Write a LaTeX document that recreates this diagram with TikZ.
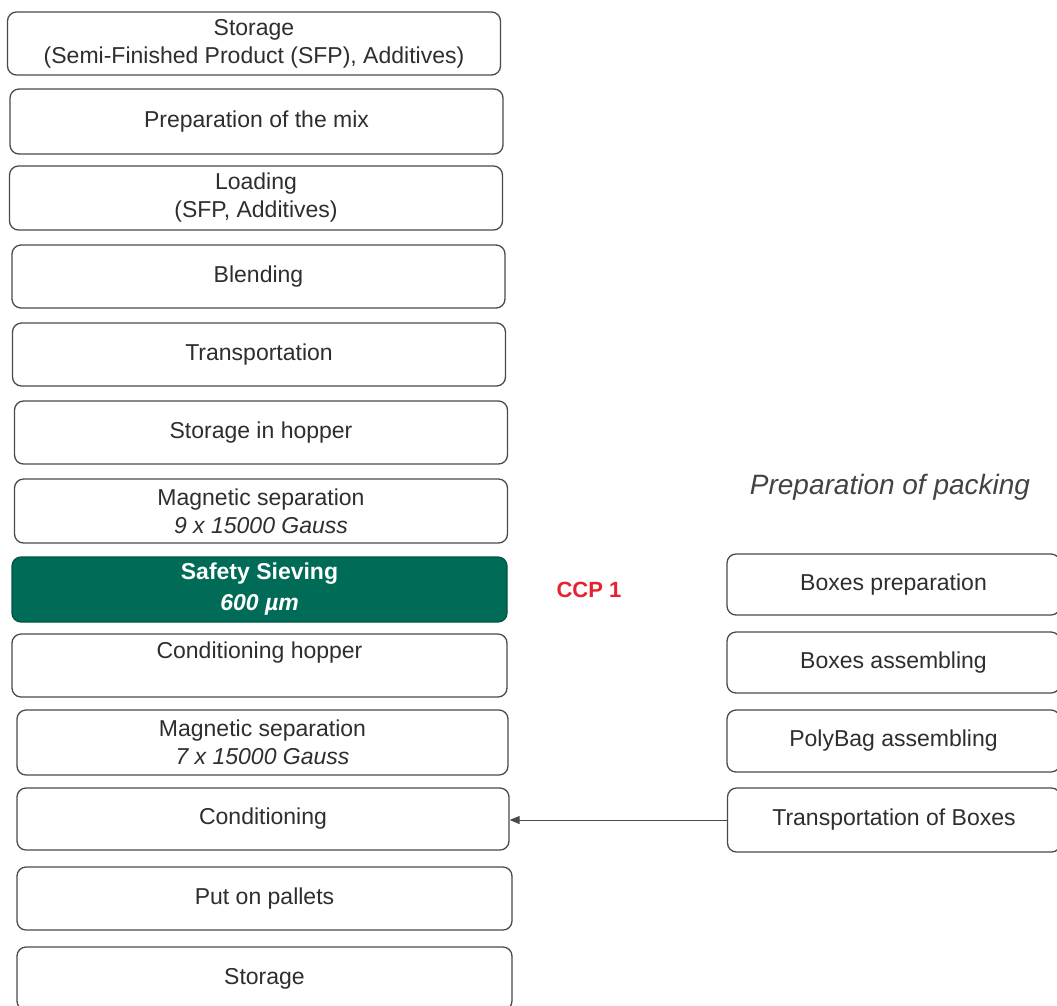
\documentclass[tikz,border=0pt]{standalone}
\usepackage{fontspec}
\setmainfont{Liberation Sans}
\usetikzlibrary{arrows.meta}
\definecolor{txtgray}{HTML}{2E2E2E}
\definecolor{linegray}{HTML}{4A4A4A}
\definecolor{ccpgreen}{HTML}{006B56}
\definecolor{ccpred}{HTML}{E8212E}
\tikzset{
  stepbox/.style={draw=linegray, line width=1.3pt, rounded corners=9pt, fill=white,
    inner sep=0pt, align=center, text=txtgray, font=\fontsize{23}{28}\selectfont},
  leftbox/.style={stepbox, minimum width=493pt, minimum height=63pt},
  rightbox/.style={stepbox, minimum width=333pt, minimum height=62pt},
  ccpbox/.style={leftbox, fill=ccpgreen, draw=ccpgreen!80!black, text=white,
    font=\bfseries\fontsize{23}{31}\selectfont},
  flowarrow/.style={draw=linegray, line width=1pt, -{Triangle[length=10pt,width=8pt]}}
}
\begin{document}
\begin{tikzpicture}[x=1pt,y=-1pt]
\clip (0,0) rectangle (1057,1005);
\fill[white] (0,0) rectangle (1057,1005);
% left column
\node[leftbox] (sto1) at (254,43.5) {Storage\\(Semi-Finished Product (SFP), Additives)};
\node[leftbox, minimum height=65pt] (mix) at (256.5,121.5) {Preparation of the mix};
\node[leftbox, minimum height=64pt] (load) at (256,198) {Loading\\(SFP, Additives)};
\node[leftbox] (blend) at (258.5,276.5) {Blending};
\node[leftbox] (trans) at (259,354.5) {Transportation};
\node[leftbox] (hop) at (261,432.5) {Storage in hopper};
\node[leftbox, minimum height=64pt] (mag1) at (261,511) {Magnetic separation\\\textit{9 x 15000 Gauss}};
\node[ccpbox, minimum width=495pt, minimum height=65pt] (sieve) at (259.5,589.5) {Safety Sieving\\\textit{600 µm}};
\node[leftbox, minimum width=495pt, minimum height=63pt] (condh) at (259.5,665.5) {Conditioning hopper\\[2pt]~};
\node[leftbox, minimum width=491pt, minimum height=65pt] (mag2) at (262.5,742.5) {Magnetic separation\\\textit{7 x 15000 Gauss}};
\node[leftbox, minimum width=492pt, minimum height=62pt] (cond) at (263,819) {Conditioning};
\node[leftbox, minimum width=495pt] (pallet) at (264.5,898.5) {Put on pallets};
\node[leftbox, minimum width=495pt] (sto2) at (264.5,978.5) {Storage};
% CCP label
\node[text=ccpred, font=\bfseries\fontsize{22}{26}\selectfont] (ccp) at (589,590) {CCP 1};
% right column
\node[text=txtgray!90, font=\itshape\fontsize{28}{32}\selectfont] (packtitle) at (890,487) {Preparation of packing};
\node[rightbox, minimum height=61pt] (bp) at (893.5,584.5) {Boxes preparation};
\node[rightbox, minimum height=61pt] (ba) at (893.5,662.5) {Boxes assembling};
\node[rightbox] (pb) at (893.5,741) {PolyBag assembling};
\node[rightbox, minimum height=64pt] (tb) at (894,820) {Transportation of Boxes};
% connector
\draw[flowarrow] (tb.west) -- (tb.west -| cond.east);
\end{tikzpicture}
\end{document}
